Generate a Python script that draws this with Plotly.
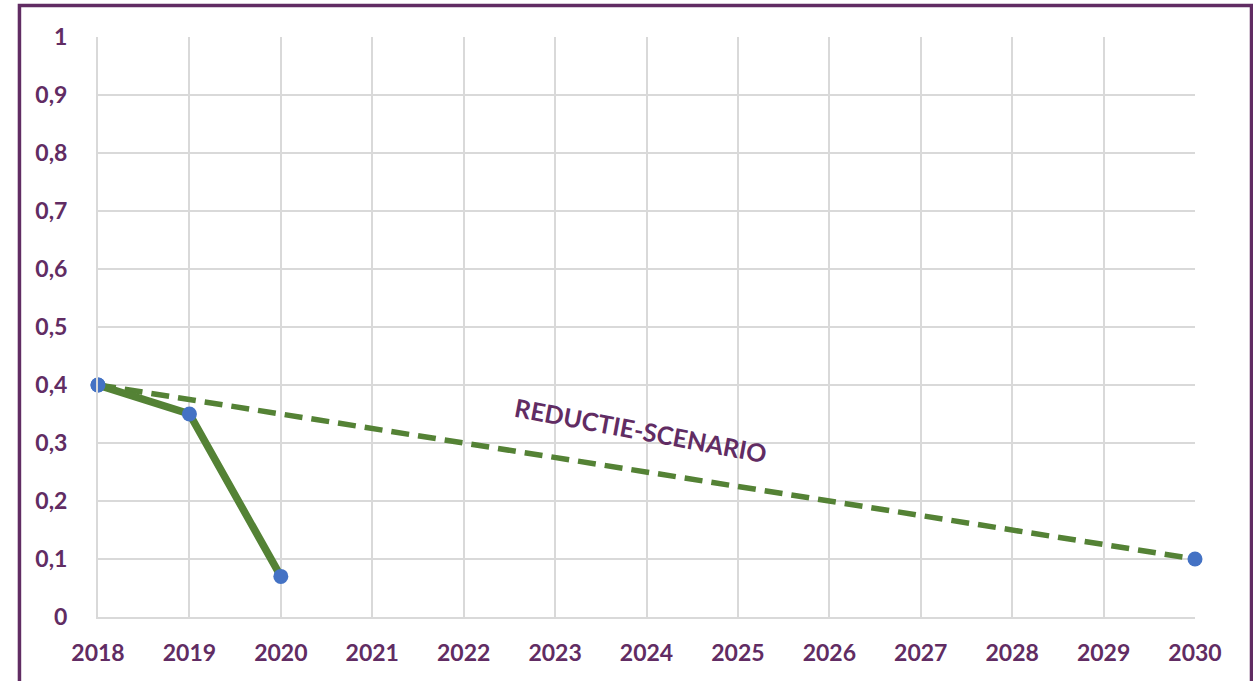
import plotly.graph_objects as go

# Measured values
years_actual = [2018, 2019, 2020]
values_actual = [0.40, 0.35, 0.07]

# Linear reduction scenario towards 2030
years_scenario = [2018, 2030]
values_scenario = [0.40, 0.10]

x_ticks = list(range(2018, 2031))
y_ticks = [0, 0.1, 0.2, 0.3, 0.4, 0.5, 0.6, 0.7, 0.8, 0.9, 1]
y_tick_labels = ["0", "0,1", "0,2", "0,3", "0,4", "0,5", "0,6", "0,7", "0,8", "0,9", "1"]

scenario_label = "REDUCTIE-SCENARIO"

PURPLE = "#612C63"
GREEN = "#548235"
BLUE = "#4472C4"
GRID = "#D9D9D9"

fig = go.Figure()

fig.add_trace(go.Scatter(
    x=years_scenario, y=values_scenario,
    mode="lines+markers",
    line=dict(color=GREEN, width=5.5, dash="18px,9px"),
    marker=dict(color=BLUE, size=15),
    cliponaxis=False,
    showlegend=False,
))

fig.add_trace(go.Scatter(
    x=years_actual, y=values_actual,
    mode="lines+markers",
    line=dict(color=GREEN, width=7.5),
    marker=dict(color=BLUE, size=15),
    cliponaxis=False,
    showlegend=False,
))

fig.add_annotation(
    x=2023.94, y=0.322, xref="x", yref="y",
    text=scenario_label, showarrow=False,
    textangle=10.5,
    font=dict(family="Lato", size=25, color=PURPLE, weight="bold"),
)

# Outer frame around the chart
fig.add_shape(
    type="rect", xref="paper", yref="paper",
    x0=-0.0716, x1=1.0515, y0=-0.3, y1=1.0543,
    line=dict(color=PURPLE, width=3.5),
    fillcolor="rgba(0,0,0,0)",
    layer="above",
)

tick_font = dict(family="Lato", size=23, color=PURPLE, weight="bold")

fig.update_layout(
    width=1253, height=681,
    margin=dict(l=98, r=58, t=37, b=64),
    paper_bgcolor="white",
    plot_bgcolor="white",
    xaxis=dict(
        range=[2018, 2030],
        tickvals=x_ticks,
        ticktext=[str(v) for v in x_ticks],
        showgrid=True, gridcolor=GRID, gridwidth=2,
        showline=True, linecolor=GRID, linewidth=2,
        zeroline=False,
        ticks="outside", ticklen=14, tickcolor="rgba(0,0,0,0)",
        tickfont=tick_font,
        automargin=False,
    ),
    yaxis=dict(
        range=[0, 1],
        tickvals=y_ticks,
        ticktext=y_tick_labels,
        showgrid=True, gridcolor=GRID, gridwidth=2,
        showline=True, linecolor=GRID, linewidth=2,
        zeroline=False,
        ticks="outside", ticklen=24, tickcolor="rgba(0,0,0,0)",
        tickfont=tick_font,
        automargin=False,
    ),
)

fig.write_html("out.html")
